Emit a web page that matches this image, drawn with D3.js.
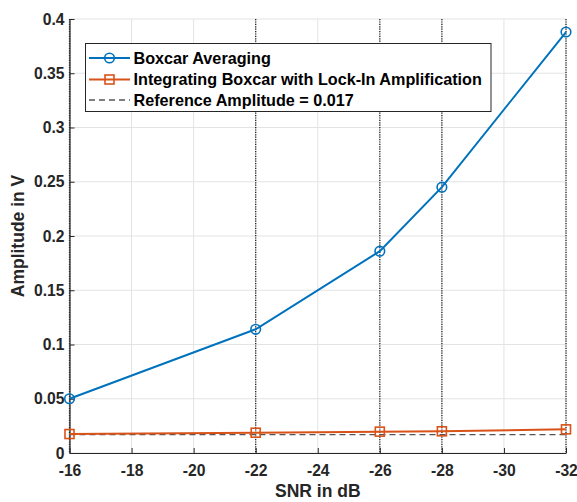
<!DOCTYPE html>
<html><head><meta charset="utf-8">
<script src="https://cdn.jsdelivr.net/npm/d3@7"></script>
<style>body{margin:0;background:#fff}svg{display:block}text{font-family:"Liberation Sans",Arial,sans-serif;font-weight:bold}</style>
</head><body><svg id="c" width="577" height="502"></svg>
<script>
const snr = [-16, -22, -26, -28, -32];
const boxcar = [0.050, 0.114, 0.186, 0.245, 0.388];
const lockin = [0.0175, 0.0187, 0.0197, 0.0200, 0.0218];
const refAmp = 0.017;
const xTicks = [-16, -18, -20, -22, -24, -26, -28, -30, -32];
const yTicks = [0, 0.05, 0.1, 0.15, 0.2, 0.25, 0.3, 0.35, 0.4];
const legendLabels = ["Boxcar Averaging", "Integrating Boxcar with Lock-In Amplification", "Reference Amplitude = 0.017"];

const svg = d3.select("#c");
const L = 69.5, R = 566, T = 19, B = 453;
const x = d3.scaleLinear().domain([-16, -32]).range([L, R]);
const y = d3.scaleLinear().domain([0, 0.4]).range([B, T]);
const blue = "#0072BD", orange = "#D95319";

// grid
svg.append("g").selectAll("line").data(xTicks).join("line")
  .attr("x1", d => x(d)).attr("x2", d => x(d)).attr("y1", T).attr("y2", B)
  .attr("stroke", "#e3e3e3").attr("stroke-width", 1);
svg.append("g").selectAll("line").data(yTicks).join("line")
  .attr("x1", L).attr("x2", R).attr("y1", d => y(d)).attr("y2", d => y(d))
  .attr("stroke", "#e3e3e3").attr("stroke-width", 1);

// axes
const fmtY = d => d === 0 ? "0" : String(+d.toFixed(2));
const xAxis = svg.append("g").attr("transform", `translate(0,${B})`)
  .call(d3.axisBottom(x).tickValues(xTicks).tickSizeInner(-5).tickSizeOuter(0).tickPadding(12).tickFormat(d => d));
const yAxis = svg.append("g").attr("transform", `translate(${L},0)`)
  .call(d3.axisLeft(y).tickValues(yTicks).tickSizeInner(-5).tickSizeOuter(0).tickPadding(5).tickFormat(fmtY));
[xAxis, yAxis].forEach(a => {
  a.select(".domain").attr("stroke", "#262626").attr("stroke-width", 1.2);
  a.selectAll(".tick line").attr("stroke", "#262626");
  a.selectAll("text").attr("fill", "#262626").style("font-size", "15.7px").style("font-weight", "bold")
    .style("font-family", '"Liberation Sans",Arial,sans-serif');
});
xAxis.selectAll("text").attr("dy", "0.71em");

// dotted vertical lines at data points
svg.append("g").selectAll("line").data(snr).join("line")
  .attr("x1", d => x(d)).attr("x2", d => x(d)).attr("y1", T).attr("y2", B)
  .attr("stroke", "#222").attr("stroke-width", 1.3).attr("stroke-dasharray", "1.2,1.2");

// reference line
svg.append("line").attr("x1", L).attr("x2", R).attr("y1", y(refAmp)).attr("y2", y(refAmp))
  .attr("stroke", "#555").attr("stroke-width", 1.3).attr("stroke-dasharray", "6,4");

const line = d3.line().x((d, i) => x(snr[i])).y(d => y(d));
svg.append("path").datum(lockin).attr("d", line).attr("fill", "none").attr("stroke", orange).attr("stroke-width", 2);
svg.append("g").selectAll("rect").data(lockin).join("rect")
  .attr("x", (d, i) => x(snr[i]) - 4.5).attr("y", d => y(d) - 4.5).attr("width", 9).attr("height", 9)
  .attr("fill", "none").attr("stroke", orange).attr("stroke-width", 1.6);
svg.append("path").datum(boxcar).attr("d", line).attr("fill", "none").attr("stroke", blue).attr("stroke-width", 2);
svg.append("g").selectAll("circle").data(boxcar).join("circle")
  .attr("cx", (d, i) => x(snr[i])).attr("cy", d => y(d)).attr("r", 4.8)
  .attr("fill", "none").attr("stroke", blue).attr("stroke-width", 1.6);

// labels
svg.append("text").attr("x", (L + R) / 2).attr("y", 497).attr("text-anchor", "middle")
  .attr("fill", "#262626").style("font-size", "17.5px").text("SNR in dB");
svg.append("text").attr("transform", `translate(24,${(T + B) / 2}) rotate(-90)`).attr("text-anchor", "middle")
  .attr("fill", "#262626").style("font-size", "17.5px").text("Amplitude in V");

// legend
const lg = svg.append("g");
lg.append("rect").attr("x", 85.5).attr("y", 43.5).attr("width", 405.5).attr("height", 68)
  .attr("fill", "#fff").attr("stroke", "#262626").attr("stroke-width", 1);
const rows = [58, 79.5, 100];
const lx1 = 89, lx2 = 130, mx = 109.5;
lg.append("line").attr("x1", lx1).attr("x2", lx2).attr("y1", rows[0]).attr("y2", rows[0]).attr("stroke", blue).attr("stroke-width", 2);
lg.append("circle").attr("cx", mx).attr("cy", rows[0]).attr("r", 4.8).attr("fill", "none").attr("stroke", blue).attr("stroke-width", 1.6);
lg.append("line").attr("x1", lx1).attr("x2", lx2).attr("y1", rows[1]).attr("y2", rows[1]).attr("stroke", orange).attr("stroke-width", 2);
lg.append("rect").attr("x", mx - 4.5).attr("y", rows[1] - 4.5).attr("width", 9).attr("height", 9).attr("fill", "none").attr("stroke", orange).attr("stroke-width", 1.6);
lg.append("line").attr("x1", lx1).attr("x2", lx2).attr("y1", rows[2]).attr("y2", rows[2]).attr("stroke", "#555").attr("stroke-width", 1.3).attr("stroke-dasharray", "6,4");
lg.selectAll("text.lg").data(legendLabels).join("text").attr("class", "lg")
  .attr("x", 133.5).attr("y", (d, i) => rows[i]).attr("dy", "0.36em")
  .attr("fill", "#000").style("font-size", "16.2px").text(d => d);
</script></body></html>
